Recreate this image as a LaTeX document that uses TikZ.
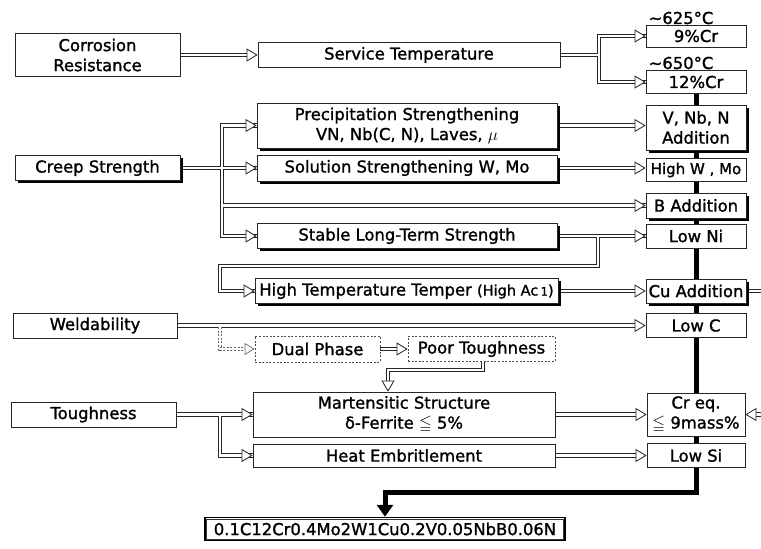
\documentclass[tikz,border=0pt]{standalone}
\usepackage{fontspec}
\usepackage{amssymb}
\setmainfont{DejaVu Sans}[FakeBold=1.3]
\usetikzlibrary{arrows.meta,shadows,backgrounds}

\begin{document}
\begin{tikzpicture}[x=1pt,y=-1pt,
  font=\fontsize{16.4}{20}\selectfont,
  bx/.style={draw=black!85, line width=0.8pt, fill=white, inner sep=0pt, align=center, text=black},
  shd/.style={drop shadow={shadow xshift=2.5pt, shadow yshift=-2.5pt, fill=black, opacity=1}},
  dbox/.style={bx, dash pattern=on 2pt off 1.6pt, draw=black!70},
  dline/.style={draw=black!85, line width=0.8pt, double=white, double distance=2.8pt},
  tipc/.style={dline, -{Triangle[length=11pt, width=13pt, line width=0.8pt, fill=white]}},
  dashc/.style={draw=black!60, line width=0.7pt, double=white, double distance=2.8pt,
    dash pattern=on 2pt off 1.6pt,
    -{Triangle[length=10pt, width=12pt, line width=0.7pt, fill=white]}},
  mainline/.style={draw=black, line width=5pt, line join=miter},
  lbl/.style={inner sep=0pt}
]
\useasboundingbox (0,0) rectangle (761,549);

% ---- top row: corrosion resistance ----
\node[bx, minimum width=165, minimum height=43] (corr) at (97.5,55) {Corrosion\\Resistance};
\node[bx, minimum width=302, minimum height=25] (serv) at (409,55) {Service Temperature};
\node[bx, minimum width=100, minimum height=22] (cr9) at (696,36) {9\%Cr};
\node[bx, minimum width=100, minimum height=23] (cr12) at (696,82) {12\%Cr};
\node[lbl] (t625) at (681,18) {\symbol{"7E}625°C};
\node[lbl] (t650) at (681,63) {\symbol{"7E}650°C};

% ---- creep strength ----
\node[bx, shd, minimum width=300, minimum height=45] (precip) at (407,125.5)
  {Precipitation Strengthening\\VN, Nb(C, N), Laves, $\mu$};
\node[bx, shd, minimum width=100, minimum height=45] (vnb) at (696,127.5) {V, Nb, N\\Addition};
\node[bx, shd, minimum width=165, minimum height=25] (creep) at (97.5,168) {Creep Strength};
\node[bx, shd, minimum width=300, minimum height=26] (sol) at (407,168) {Solution Strengthening W, Mo};
\node[bx, minimum width=100, minimum height=23, font=\fontsize{15}{18}\selectfont] (hiw) at (696,170) {High W , Mo};
\node[bx, shd, minimum width=100, minimum height=25] (badd) at (696,205.5) {B Addition};
\node[bx, shd, minimum width=300, minimum height=25] (stable) at (407,236) {Stable Long-Term Strength};
\node[bx, minimum width=100, minimum height=24] (lowni) at (696,236) {Low Ni};
\node[bx, shd, minimum width=303, minimum height=25] (htt) at (406.5,291)
  {High Temperature Temper {\fontsize{14.5}{16}\selectfont(High Ac\,{\fontsize{11.5}{12}\selectfont 1})}};
\node[bx, shd, minimum width=100, minimum height=24] (cuadd) at (696,291) {Cu Addition};

% ---- weldability ----
\node[bx, minimum width=164, minimum height=25] (weld) at (95,325.5) {Weldability};
\node[bx, minimum width=100, minimum height=24] (lowc) at (696,325.5) {Low C};
\node[dbox, minimum width=125, minimum height=26] (dual) at (317.5,349) {Dual Phase};
\node[dbox, minimum width=147, minimum height=25] (poor) at (481.5,349) {Poor Toughness};

% ---- toughness ----
\node[bx, minimum width=165, minimum height=25] (tough) at (93.5,414.5) {Toughness};
\node[bx, minimum width=302, minimum height=45] (mart) at (404,414.5)
  {Martensitic Structure\\δ-Ferrite $\leqq$ 5\%};
\node[bx, minimum width=98, minimum height=43] (creq) at (696,414.5) {Cr eq.\\$\leqq$ 9mass\%};
\node[bx, minimum width=302, minimum height=23] (heat) at (404,455.5) {Heat Embritlement};
\node[bx, minimum width=98, minimum height=24] (lowsi) at (696,455.5) {Low Si};

% ---- resulting composition (framed twice) ----
\node[bx, line width=1.5pt, draw=black, minimum width=360, minimum height=23] (final) at (385,529)
  {0.1C12Cr0.4Mo2W1Cu0.2V0.05NbB0.06N};
\draw[line width=0.6pt, black!80] ([xshift=2.2pt,yshift=-2.2pt]final.north west)
  rectangle ([xshift=-2.2pt,yshift=2.2pt]final.south east);

% branch points and free ends
\coordinate (sj) at (599,55);
\coordinate (cj) at (222,168);
\coordinate (stj) at (598,236);
\coordinate (hj) at (220,266);
\coordinate (wj) at (220,326.9);
\coordinate (tj) at (220,414.5);
\coordinate (pd) at (483,0);
\coordinate (pk) at (483,370);
\coordinate (pm) at (388,0);
\coordinate (bend) at (696,492);
\coordinate (ecu) at (761,291);
\coordinate (ecr) at (761,414.5);

\begin{scope}[on background layer]
  % main spine collecting the element choices
  \draw[mainline, -{Triangle[length=12pt, width=16pt]}] (cr12.south) -- (bend) -| (final.north);

  % corrosion resistance
  \draw[tipc] (corr.east) -- (serv.west);
  \draw[dline] (serv.east) -- (sj) |- (cr9.west) (sj) |- (cr12.west);
  \draw[tipc] ([xshift=-14pt]cr9.west) -- (cr9.west);
  \draw[tipc] ([xshift=-14pt]cr12.west) -- (cr12.west);

  % creep strength
  \draw[dline] (creep.east) -- (sol.west) (cj) |- (precip.west)
               (cj) |- (badd.west) (cj) |- (stable.west);
  \foreach \n in {precip,sol,badd,stable}
    \draw[tipc] ([xshift=-14pt]\n.west) -- (\n.west);
  \draw[tipc] (precip.east) -- (precip.east -| vnb.west);
  \draw[tipc] (sol.east) -- (sol.east -| hiw.west);
  \draw[dline] (stable.east) -- (lowni.west) (stj) |- (hj) |- (htt.west);
  \draw[tipc] ([xshift=-14pt]lowni.west) -- (lowni.west);
  \draw[tipc] ([xshift=-14pt]htt.west) -- (htt.west);
  \draw[tipc] (htt.east) -- (cuadd.west);
  \draw[dline] (ecu) -- (cuadd.east);

  % weldability
  \draw[tipc] (weld.east) -- (lowc.west);
  \draw[dashc] (wj) |- (dual.west);
  \draw[tipc] (dual.east) -- (poor.west);
  \draw[tipc] (poor.south -| pd) -- (pk) -| (mart.north -| pm);

  % toughness
  \draw[dline] (tough.east) -- (mart.west) (tj) |- (heat.west);
  \draw[tipc] ([xshift=-14pt]mart.west) -- (mart.west);
  \draw[tipc] ([xshift=-14pt]heat.west) -- (heat.west);
  \draw[tipc] (mart.east) -- (creq.west);
  \draw[tipc] (heat.east) -- (lowsi.west);
  \draw[tipc] (ecr) -- (creq.east);
\end{scope}
\end{tikzpicture}
\end{document}
